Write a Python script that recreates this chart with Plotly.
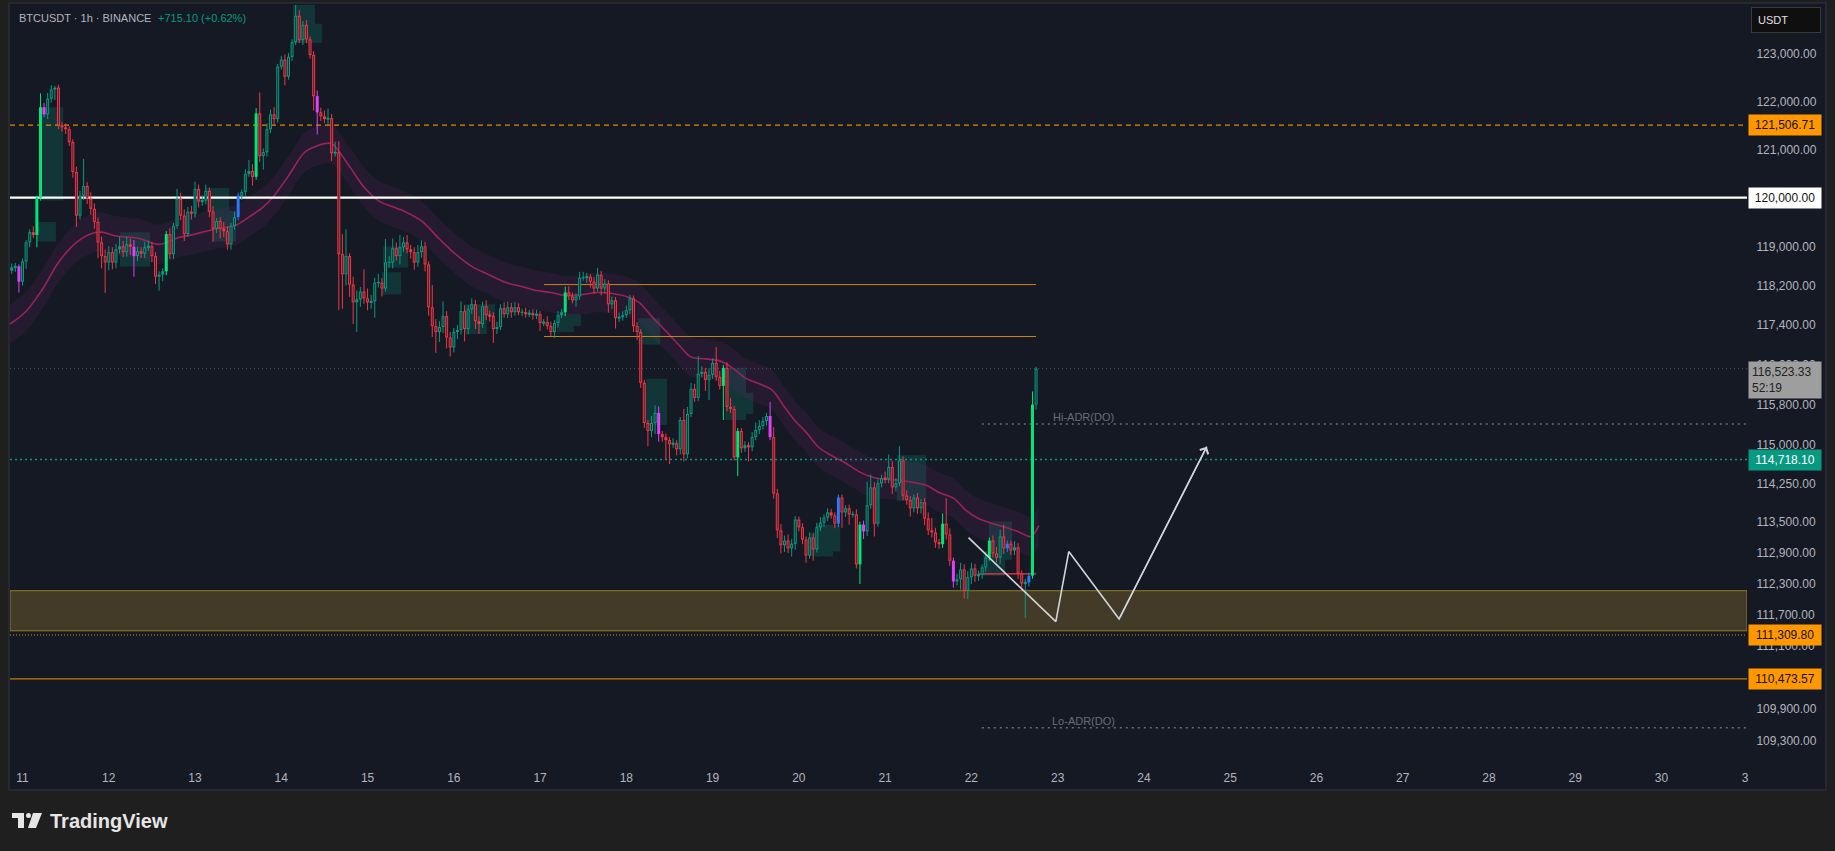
import math
import plotly.graph_objects as go

# hourly BTCUSDT bars; hour index 0 = Aug 11 00:00, first bar = Aug 10 21:00
first_hour = -3
first_open = 118500
close = [
    118570, 118590, 118280, 118690, 119080, 119290, 119230, 120000, 121880, 121730, 122060, 122250, 122290,
    121500, 121460, 121420, 121150, 120530, 119630, 120040, 120240, 119980, 119770,
    119500, 119080, 118800, 118670, 118880, 118670, 118940, 119000, 118880, 119040,
    118990, 118800, 118900, 118850, 118980, 119000, 118800, 118380, 118420, 118490,
    119250, 118840, 119420, 119980, 119630, 119250, 119710, 119670, 120180, 119920,
    119940, 120140, 119710, 119360, 119520, 119360, 119310, 119040, 119420, 119600,
    120040, 120120, 120490, 120550, 120430, 121750, 120860, 120940, 121420, 121730,
    121630, 122730, 122880, 122520, 122940, 123250, 123810, 123290, 123620, 123310,
    122980, 122110, 121770, 121690, 121630, 121650, 120920, 120940, 118840, 118430,
    118800, 118220, 117860, 117920, 118080, 117940, 117860, 117880, 118260, 118260,
    118140, 118670, 118670, 118960, 118800, 118980, 119080, 118940, 118880, 118670,
    118880, 119000, 118630, 117760, 117380, 117260, 117360, 117580, 117150, 116950,
    117260, 117300, 117680, 117320, 117720, 117820, 117480, 117420, 117780, 117600,
    117580, 117320, 117360, 117740, 117620, 117760, 117660, 117760, 117660, 117660,
    117620, 117640, 117600, 117620, 117440, 117460, 117380, 117260, 117440, 117600,
    117660, 118060, 117980, 117900, 117980, 118360, 118360, 118380, 118280, 118140,
    118420, 118140, 118240, 117820, 117900, 117540, 117560, 117600, 117700, 117940,
    117380, 117260, 116240, 115440, 115280, 115440, 115640, 115220, 115160, 115100,
    115020, 115040, 114920, 115500, 114820, 115620, 116120, 115940, 116420, 116460,
    116300, 116400, 116640, 116360, 116180, 116540, 115760, 115720, 114760, 115280,
    114940, 115000, 114960, 115160, 115300, 115380, 115480, 115580, 115160, 114050,
    113330, 113040, 113130, 112980, 113070, 113540, 113390, 113150, 112840, 113190,
    112960, 113390, 113480, 113580, 113680, 113620, 113460, 113970, 113680, 113760,
    113640, 113640, 112670, 113440, 113310, 113820, 114170, 113460, 114250, 114350,
    114330, 114570, 114170, 114250, 114700, 114010, 113920, 113760, 113970, 113760,
    113880, 113560, 113330, 113290, 113100, 113060, 113460, 113250, 112740, 112340,
    112380, 112570, 112160, 112420, 112590, 112450, 112470, 112610, 112800, 113130,
    112880, 112800, 113210, 112980, 113070, 112940, 113000, 112490, 112300, 112320,
    112450, 115808.23, 116523.33,
]
wick_up = [
    80, 70, 40, 60, 50, 60, 120, 40, 290, 90, 120, 90, 40,
    60, 70, 80, 60, 60, 110, 100, 560, 80, 130,
    110, 90, 120, 130, 120, 100, 110, 200, 110, 160,
    120, 140, 90, 80, 110, 120, 90, 80, 70, 60,
    60, 120, 60, 200, 120, 130, 100, 120, 150, 90,
    110, 130, 70, 120, 60, 80, 140, 100, 60, 110,
    60, 50, 100, 230, 140, 110, 440, 80, 120, 100,
    150, 60, 80, 110, 80, 60, 300, 120, 80, 100,
    60, 80, 120, 100, 120, 200, 90, 220, 230, 410,
    550, 60, 160, 180, 90, 450, 200, 130, 100, 180,
    90, 480, 130, 200, 120, 250, 110, 150, 90, 100,
    150, 120, 90, 60, 450, 140, 120, 300, 100, 110,
    80, 100, 200, 120, 80, 120, 90, 100, 90, 120,
    90, 80, 110, 80, 120, 110, 90, 100, 80, 70,
    90, 70, 80, 90, 60, 60, 120, 90, 60, 80,
    70, 120, 130, 80, 60, 120, 120, 80, 60, 90,
    140, 80, 90, 70, 80, 70, 90, 80, 90, 70,
    60, 80, 60, 60, 60, 140, 150, 130, 60, 70,
    60, 100, 60, 60, 220, 140, 120, 100, 360, 110,
    80, 130, 90, 320, 120, 60, 110, 180, 60, 60,
    60, 80, 60, 100, 150, 120, 80, 60, 280, 200,
    90, 120, 100, 120, 90, 70, 60, 80, 60, 100,
    80, 90, 110, 60, 80, 70, 60, 60, 60, 60,
    70, 60, 100, 60, 80, 460, 250, 100, 80, 70,
    130, 250, 120, 100, 280, 80, 100, 80, 60, 90,
    60, 80, 120, 240, 90, 60, 200, 500, 120, 60,
    100, 130, 100, 120, 110, 90, 80, 60, 120, 60,
    100, 130, 130, 230, 60, 60, 120, 80, 60, 70,
    60, 260, 40,
]
wick_dn = [
    60, 90, 220, 80, 150, 100, 60, 250, 60, 60, 100, 80, 220,
    80, 90, 100, 80, 120, 230, 80, 90, 110, 120,
    140, 320, 250, 620, 160, 140, 120, 90, 100, 90,
    170, 420, 100, 90, 90, 80, 120, 150, 280, 130,
    80, 100, 100, 60, 90, 140, 60, 120, 80, 120,
    90, 80, 110, 270, 90, 200, 120, 110, 110, 80,
    70, 90, 90, 60, 180, 60, 120, 280, 90, 80,
    120, 70, 60, 180, 60, 90, 60, 60, 100, 80,
    80, 300, 460, 100, 80, 120, 160, 70, 1140, 700,
    230, 250, 440, 600, 150, 110, 160, 130, 330, 100,
    160, 60, 110, 120, 90, 170, 90, 80, 130, 150,
    90, 110, 140, 170, 220, 420, 200, 120, 220, 180,
    100, 140, 90, 250, 110, 90, 160, 200, 80, 100,
    110, 280, 100, 60, 70, 80, 110, 70, 60, 80,
    70, 60, 90, 80, 160, 60, 70, 80, 120, 90,
    60, 80, 70, 60, 130, 70, 60, 110, 120, 100,
    60, 140, 100, 170, 90, 210, 80, 70, 60, 80,
    120, 160, 100, 100, 300, 120, 220, 150, 90, 380,
    390, 70, 120, 100, 140, 80, 60, 80, 60, 70,
    220, 400, 80, 80, 70, 680, 90, 80, 60, 370,
    90, 70, 280, 80, 60, 80, 70, 90, 60, 100,
    150, 160, 130, 90, 160, 120, 80, 90, 140, 60,
    220, 60, 70, 80, 70, 60, 90, 70, 300, 90,
    200, 60, 80, 380, 150, 90, 70, 250, 60, 80,
    80, 80, 130, 80, 60, 90, 90, 160, 80, 110,
    100, 130, 90, 100, 110, 90, 70, 100, 100, 120,
    80, 200, 150, 160, 130, 120, 100, 80, 80, 60,
    80, 90, 120, 110, 70, 90, 90, 100, 150, 660,
    80, 60, 100,
]

# bars painted in special colours (hour index)
pink_bars = [-1, 6, 31, 82, 177, 208, 234, 259]
blue_bars = [60, 227, 274, 280]
bright_bars = [4, 5, 40, 65, 151, 195, 199, 233, 256, 269, 281]

# moving average
ma_hour = [-3.5, 1, 5.5, 10, 15, 19.5, 22, 26, 32, 38, 43, 48, 54, 59, 63, 67, 70, 74, 78.5,
           81.5, 84, 86, 88, 91.5, 95, 99, 103, 106.5, 111, 116, 120.5, 125, 129.5, 134.5,
           139, 143, 147, 151, 156, 160, 164, 168, 171.5, 175, 179, 182.5, 186, 190, 194,
           197.5, 201, 205, 208.5, 212, 215, 218, 221.5, 225, 229, 233, 236.5, 240, 244,
           247.5, 251.5, 255, 259, 262.5, 266, 270, 273.5, 277.5, 280.5, 282.8]
ma_value = [117420, 117680, 118120, 118670, 119080, 119270, 119290, 119210, 119170, 119040,
            119170, 119250, 119360, 119420, 119600, 119810, 120040, 120450, 120940, 121060,
            121120, 121120, 120960, 120590, 120220, 119940, 119810, 119710, 119520, 119150,
            118840, 118590, 118430, 118260, 118180, 118100, 118060, 118000, 118020, 118060,
            118040, 117980, 117860, 117580, 117280, 117010, 116760, 116720, 116680, 116540,
            116340, 116220, 116100, 115760, 115480, 115260, 114960, 114800, 114650, 114470,
            114370, 114330, 114310, 114270, 114210, 114070, 113960, 113720, 113560, 113460,
            113390, 113290, 113210, 113420]

# order-block boxes: start hour, end hour, top, bottom
box_x0 = [5.1, 4.0, 27.1, 51.3, 53.0, 75.3, 78.0, 100.3, 100.0, 123.1, 128.1, 149.0, 148.7,
          171.3, 173.5, 195.5, 197.4, 220.8, 219.1, 243.3, 243.3, 268.9, 267.3]
box_x1 = [11.3, 9.3, 35.5, 57.5, 59.4, 81.4, 83.3, 107.3, 105.3, 129.2, 131.5, 155.4, 153.4,
          177.4, 179.3, 201.3, 203.3, 227.5, 225.5, 251.4, 249.4, 275.3, 273.4]
box_top = [121880, 119500, 119290, 120200, 119730, 124060, 123640, 119000, 118470, 117820,
           117820, 117620, 117420, 117540, 116320, 116540, 116040, 113440, 113290, 114800,
           114470, 113500, 112880]
box_bot = [119940, 119100, 118590, 119710, 119100, 123230, 123230, 118570, 118020, 117220,
           117580, 117380, 117260, 117010, 115400, 115500, 115620, 112920, 112820, 113910,
           113970, 112760, 112450]

# horizontal levels
level_dash = 121506.71
level_round = 120000.00
range_levels = [118220, 117170]
range_hours = [145.1, 282.0]
level_teal = 114718.10
level_hi_adr = 115420
level_lo_adr = 109550
adr_start = 266.9
zone = [111390, 112160]
level_dot = 111309.80
level_orange = 110473.57
red_level = 112484
red_hours = [265.9, 282.0]
last_price = 116523.33

# drawn path projection
zig_hours = [263.2, 287.5, 291.1, 305.1, 329.5]
zig_price = [113187, 111565, 112917, 111616, 114972]

day_hours = [0, 24, 48, 72, 96, 120, 144, 168, 192, 216, 240, 264, 288, 312, 336, 360, 384,
             408, 432, 456, 479.3]
day_labels = ["11", "12", "13", "14", "15", "16", "17", "18", "19", "20", "21", "22", "23",
              "24", "25", "26", "27", "28", "29", "30", "3"]
price_ticks = [123000, 122000, 121000, 120000, 119000, 118200, 117400, 116600, 115800, 115000,
               114250, 113500, 112900, 112300, 111700, 111100, 110500, 109900, 109300]

FONT = "Liberation Sans"
BG = "#151924"
OUTER = "#1f1f1f"
TXT = "#b2b5be"

PL, PR, PT, PB = 10, 1747, 5, 762
X0, X1 = -3.48, 479.8
Y0, Y1 = math.log10(108906), math.log10(124040)


def px(x):
    return (x - PL) / (PR - PL)


def py(y):
    return (PB - y) / (PB - PT)


fig = go.Figure()


def line(xs, ys, color, width=1, dash="solid", shape="linear"):
    fig.add_trace(go.Scatter(x=xs, y=ys, mode="lines", hoverinfo="skip", showlegend=False,
                             line=dict(color=color, width=width, dash=dash, shape=shape)))


# demand zone
fig.add_trace(go.Scatter(x=[X0, X1, X1, X0, X0], y=[zone[0], zone[0], zone[1], zone[1], zone[0]],
                         mode="lines", fill="toself", fillcolor="#433b27", hoverinfo="skip",
                         line=dict(color="#8f7f28", width=1), showlegend=False))

# order-block boxes
bx, by = [], []
for a, b, t, u in zip(box_x0, box_x1, box_top, box_bot):
    bx += [a, b, b, a, a, None]
    by += [u, u, t, t, u, None]
fig.add_trace(go.Scatter(x=bx, y=by, mode="lines", fill="toself", fillcolor="rgba(8,153,129,0.22)",
                         line=dict(width=0, color="rgba(0,0,0,0)"), hoverinfo="skip", showlegend=False))

# moving-average ribbon
band = 0.0034
fig.add_trace(go.Scatter(x=ma_hour, y=[v * (1 - band) for v in ma_value], mode="lines",
                         line=dict(width=0, shape="spline"), hoverinfo="skip", showlegend=False))
fig.add_trace(go.Scatter(x=ma_hour, y=[v * (1 + band) for v in ma_value], mode="lines",
                         fill="tonexty", fillcolor="rgba(110,40,110,0.17)",
                         line=dict(width=0, shape="spline"), hoverinfo="skip", showlegend=False))
line(ma_hour, ma_value, "#9c2258", 1.6, shape="spline")

# levels
line([X0, X1], [last_price, last_price], "#4c505b", 1, "1px,3px")
line([X0, X1], [level_dash, level_dash], "#e08a00", 1.2, "5px,4px")
line([X0, X1], [level_round, level_round], "#ffffff", 2.4)
for lv in range_levels:
    line(range_hours, [lv, lv], "#c8861b", 1)
line([X0, X1], [level_teal, level_teal], "#089981", 1.4, "2px,3px")
line([adr_start, X1], [level_hi_adr, level_hi_adr], "#6a6d78", 1.4, "2px,4px")
line([adr_start, X1], [level_lo_adr, level_lo_adr], "#6a6d78", 1.4, "2px,4px")
line([X0, X1], [level_dot, level_dot], "#d98a10", 1, "1px,2px")
line([X0, X1], [level_orange, level_orange], "#c77a00", 1.2)
line(red_hours, [red_level, red_level], "#f23645", 1.2)

# candles
hours = [first_hour + i for i in range(len(close))]
opens = [first_open] + close[:-1]
px_per_log = (PB - PT) / (Y1 - Y0)
styles = {
    "up": ("#089981", "#0f3431"),
    "down": ("#f23645", "#4f1e29"),
    "pink": ("#e040fb", None),
    "blue": ("#2979ff", None),
    "bright": ("#00e676", None),
}
groups = {k: {"wx": [], "wy": [], "bx": [], "by": [], "ix": [], "iy": []} for k in styles}
for h, o, c, up, dn in zip(hours, opens, close, wick_up, wick_dn):
    if h in pink_bars:
        k = "pink"
    elif h in blue_bars:
        k = "blue"
    elif h in bright_bars:
        k = "bright"
    else:
        k = "up" if c >= o else "down"
    g = groups[k]
    top, bot = max(o, c), min(o, c)
    g["wx"] += [h, h, None]
    g["wy"] += [top + up, bot - dn, None]
    if top - bot < 24:
        top, bot = top + 12, bot - 12
    g["bx"] += [h, h, None]
    g["by"] += [bot, top, None]
    hpx = (math.log10(top) - math.log10(bot)) * px_per_log
    if hpx > 3.5:
        shrink = 10 ** (1.0 / px_per_log)
        g["ix"] += [h, h, None]
        g["iy"] += [bot * shrink, top / shrink, None]

for k, (col, inner) in styles.items():
    g = groups[k]
    line(g["wx"], g["wy"], col, 1)
    line(g["bx"], g["by"], col, 3)
    if inner and g["ix"]:
        line(g["ix"], g["iy"], inner, 1)

# projected path
line(zig_hours, zig_price, "#d1d4dc", 1.6)
fig.add_annotation(x=zig_hours[-1], y=math.log10(zig_price[-1]), ax=zig_hours[-2],
                   ay=math.log10(zig_price[-2]), axref="x", ayref="y", xref="x", yref="y",
                   showarrow=True, arrowhead=4, arrowsize=1.3, arrowwidth=1.4, arrowcolor="#d1d4dc",
                   text="")

fig.add_annotation(x=295.1, y=math.log10(115566), text="Hi-ADR(DO)", showarrow=False,
                   font=dict(family=FONT, size=11, color="#6a6d78"))
fig.add_annotation(x=295.1, y=math.log10(109677), text="Lo-ADR(DO)", showarrow=False,
                   font=dict(family=FONT, size=11, color="#6a6d78"))


# price-axis tags
def tag(price, text, bg, fg, anchor="middle", shift=0, align="center"):
    fig.add_annotation(xref="paper", x=px(1748), xanchor="left", yref="y", y=math.log10(price),
                       yanchor=anchor, yshift=shift, text=text, showarrow=False, bgcolor=bg,
                       font=dict(family=FONT, size=12, color=fg), borderpad=3, width=66,
                       align=align)


tag(level_dash, "121,506.71", "#ff9800", "#131313")
tag(level_round, "120,000.00", "#ffffff", "#131313")
tag(level_teal, "114,718.10", "#089981", "#ffffff")
tag(level_dot, "111,309.80", "#ff9800", "#131313")
tag(level_orange, "110,473.57", "#ff9800", "#131313")
tag(last_price, "116,523.33<br>52:19", "#9e9e9e", "#222222", anchor="top", shift=8, align="left")

# legend / header
fig.add_annotation(xref="paper", yref="paper", x=px(17), y=py(18), xanchor="left", yanchor="middle",
                   text="BTCUSDT · 1h · BINANCE", showarrow=False,
                   font=dict(family=FONT, size=11, color=TXT))
fig.add_annotation(xref="paper", yref="paper", x=px(156), y=py(18), xanchor="left", yanchor="middle",
                   text="+715.10 (+0.62%)", showarrow=False,
                   font=dict(family=FONT, size=11, color="#089981"))
fig.add_annotation(xref="paper", yref="paper", x=px(1751), y=py(20), xanchor="left", yanchor="middle",
                   text="USDT", showarrow=False, bgcolor="#0f0f0f", bordercolor="#3a3a3a",
                   borderwidth=1, borderpad=6, width=56, align="left",
                   font=dict(family=FONT, size=11, color="#e0e0e0"))
fig.add_annotation(xref="paper", yref="paper", x=px(48), y=py(821), xanchor="left", yanchor="middle",
                   text="<b>TradingView</b>", showarrow=False,
                   font=dict(family=FONT, size=20, color="#e6e6e6"))

shapes = [
    dict(type="rect", xref="paper", yref="paper", x0=px(9), x1=px(1826), y0=py(790), y1=py(3),
         fillcolor=BG, line=dict(color="#2a2e39", width=1.5), layer="below"),
    # logo
    dict(type="rect", xref="paper", yref="paper", x0=px(12), x1=px(24), y0=py(818), y1=py(813),
         fillcolor="#e6e6e6", line=dict(width=0)),
    dict(type="rect", xref="paper", yref="paper", x0=px(18), x1=px(24), y0=py(828), y1=py(813),
         fillcolor="#e6e6e6", line=dict(width=0)),
    dict(type="circle", xref="paper", yref="paper", x0=px(26), x1=px(31), y0=py(818), y1=py(813),
         fillcolor="#e6e6e6", line=dict(width=0)),
    dict(type="path", xref="paper", yref="paper",
         path=f"M {px(33)} {py(813)} L {px(42)} {py(813)} L {px(36)} {py(828)} L {px(28)} {py(828)} Z",
         fillcolor="#e6e6e6", line=dict(width=0)),
]

fig.update_layout(
    width=1835, height=851,
    margin=dict(l=PL, r=1835 - PR, t=PT, b=851 - PB),
    paper_bgcolor=OUTER, plot_bgcolor=BG,
    showlegend=False, shapes=shapes,
    font=dict(family=FONT, color=TXT),
    xaxis=dict(range=[X0, X1], tickvals=day_hours, ticktext=day_labels, showgrid=False,
               zeroline=False, showline=False, ticks="outside", ticklen=5,
               tickcolor="rgba(0,0,0,0)", tickfont=dict(size=12, color=TXT, family=FONT),
               fixedrange=True),
    yaxis=dict(type="log", range=[Y0, Y1], side="right", tickvals=price_ticks,
               ticktext=[f"{v:,.2f}" for v in price_ticks], showgrid=False, zeroline=False,
               showline=False, ticks="outside", ticklen=6, tickcolor="rgba(0,0,0,0)",
               tickfont=dict(size=12, color=TXT, family=FONT), fixedrange=True),
)

fig.write_html("out.html", config={"displayModeBar": False},
               post_script="document.body.style.margin='0';")
